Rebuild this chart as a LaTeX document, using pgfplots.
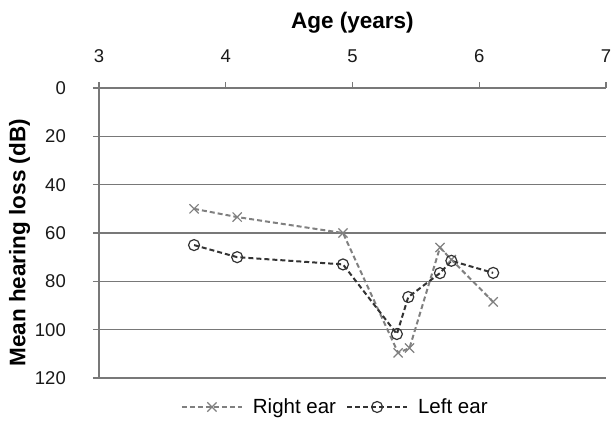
\documentclass[border=0pt]{standalone}
\usepackage{pgfplots}
\pgfplotsset{compat=1.18}
\usepackage{fontspec}
\setmainfont{Liberation Sans}
\definecolor{gridc}{HTML}{787878}
\definecolor{rightc}{HTML}{808080}
\definecolor{leftc}{HTML}{333333}
\begin{document}
\begin{tikzpicture}
\useasboundingbox (-99pt,-45pt) rectangle (516pt,378pt);
\begin{axis}[
  at={(0pt,0pt)}, anchor=south west,
  scale only axis, width=507pt, height=290pt,
  xmin=3, xmax=7, ymin=0, ymax=120,
  y dir=reverse,
  xtick={3,4,5,6,7}, ytick={0,20,40,60,80,100,120},
  axis x line=top, axis y line=left,
  axis line style={-, draw=gridc, line width=1.5pt},
  ymajorgrids, grid style={draw=gridc, line width=1.5pt},
  tick style={draw=gridc, line width=1.3pt},
  major tick length=6pt,
  tick align=outside,
  /pgf/number format/assume math mode=true,
  ticklabel style={font=\fontsize{18.5}{22}\selectfont, text=black!90},
  yticklabel style={anchor=east, inner sep=0pt, xshift=-27pt},
  xticklabel style={anchor=base, inner sep=0pt, yshift=19.5pt},
  xlabel={\textbf{Age (years)}},
  xlabel style={at={(axis description cs:0.5,1.205)}, anchor=base, font=\fontsize{22.5}{26}\selectfont},
  ylabel={\textbf{Mean hearing loss (dB)}},
  ylabel style={at={(axis description cs:-0.1568,0.466)}, anchor=center, font=\fontsize{22.5}{26}\selectfont},
  legend columns=2,
  legend style={at={(axis description cs:0.466,-0.1)}, anchor=center, draw=none, fill=none,
    font=\fontsize{20.5}{24}\selectfont, column sep=8pt, inner sep=0pt,
    nodes={inner sep=2pt}},
  legend image code/.code={\draw[mark repeat=2,mark phase=2,#1] plot coordinates {(0pt,0pt) (30pt,0pt) (60pt,0pt)};},
]
\addplot[rightc, line width=2pt, dash pattern=on 5pt off 3pt, mark=x, mark size=6.5pt, mark options={solid, line width=1.2pt}]
  coordinates {(3.75,50) (4.09,53.4) (4.925,60) (5.36,109.6) (5.45,107.6) (5.69,66) (5.78,71) (6.11,88.5)};
\addlegendentry{Right ear}
\addplot[leftc, line width=2pt, dash pattern=on 5pt off 3pt, mark=o, mark size=5.5pt, mark options={solid, line width=1.2pt}]
  coordinates {(3.75,65) (4.09,70) (4.925,73) (5.35,101.8) (5.44,86.5) (5.69,76.6) (5.78,71.5) (6.11,76.5)};
\addlegendentry{Left ear}
\end{axis}
\end{tikzpicture}
\end{document}
